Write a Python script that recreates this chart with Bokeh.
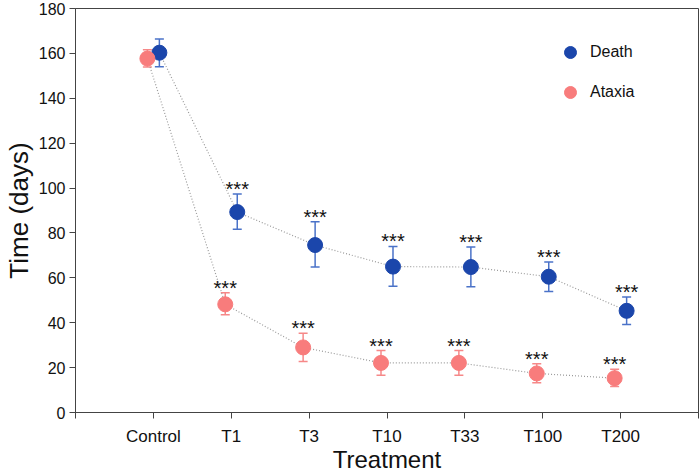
from bokeh.plotting import figure
from bokeh.models import ColumnDataSource, Whisker, FixedTicker, Legend, LegendItem, Range1d
from bokeh.transform import dodge
from bokeh.core.properties import value
from bokeh.embed import file_html
from bokeh.resources import INLINE

# ---- data ----
categories = ["Control", "T1", "T3", "T10", "T33", "T100", "T200"]
death_mean = [160.3, 89.3, 74.6, 65.0, 64.8, 60.5, 45.3]
death_upper = [166.4, 97.3, 85.0, 74.0, 73.7, 67.0, 51.5]
death_lower = [154.0, 81.6, 64.8, 56.3, 56.0, 53.9, 39.2]
ataxia_mean = [157.7, 48.2, 29.0, 22.1, 22.1, 17.4, 15.3]
ataxia_upper = [161.6, 53.3, 35.3, 27.6, 27.6, 21.7, 19.3]
ataxia_lower = [153.9, 43.5, 22.7, 16.6, 16.6, 13.2, 11.6]
death_sig = ["", "***", "***", "***", "***", "***", "***"]
ataxia_sig = ["", "***", "***", "***", "***", "***", "***"]
y_ticks = [0, 20, 40, 60, 80, 100, 120, 140, 160, 180]

xpos = list(range(1, len(categories) + 1))
FONT = "Liberation Sans"

death_src = ColumnDataSource(dict(x=xpos, y=death_mean, up=death_upper, lo=death_lower, s=death_sig))
ataxia_src = ColumnDataSource(dict(x=xpos, y=ataxia_mean, up=ataxia_upper, lo=ataxia_lower, s=ataxia_sig))

DEATH = "#1b46ab"
DEATH_ERR = "#4a72c8"
ATAXIA = "#f87c7c"
ATAXIA_ERR = "#f68888"
OFF = 0.077

p = figure(width=700, height=475, output_backend="svg", toolbar_location=None,
           x_range=Range1d(0, len(categories) + 1), y_range=Range1d(0, 180),
           min_border_left=74, min_border_right=2, min_border_top=8, min_border_bottom=63)
p.grid.visible = False
p.outline_line_color = "#444444"
p.outline_line_width = 1
p.background_fill_color = "white"
p.border_fill_color = "white"

# connecting dotted lines
p.line(dodge("x", OFF), "y", source=death_src, line_color="#9a9a9a", line_dash="1 2", line_width=1.2)
p.line(dodge("x", -OFF), "y", source=ataxia_src, line_color="#9a9a9a", line_dash="1 2", line_width=1.2)

# error bars
for src, col, off in [(death_src, DEATH_ERR, OFF), (ataxia_src, ATAXIA_ERR, -OFF)]:
    w = Whisker(base=dodge("x", off), upper="up", lower="lo", source=src,
                line_color=col, line_width=1.5)
    w.upper_head.size = 9
    w.lower_head.size = 9
    w.upper_head.line_color = col
    w.lower_head.line_color = col
    w.upper_head.line_width = 1.5
    w.lower_head.line_width = 1.5
    p.add_layout(w)

r_death = p.scatter(dodge("x", OFF), "y", source=death_src, size=15, fill_color=DEATH, line_color=DEATH)
r_ataxia = p.scatter(dodge("x", -OFF), "y", source=ataxia_src, size=15, fill_color=ATAXIA, line_color=ATAXIA)

# significance stars
for src, off in [(death_src, OFF), (ataxia_src, -OFF)]:
    p.text(dodge("x", off), "up", text="s", source=src, text_align="center",
           text_baseline="alphabetic", y_offset=-5, text_font=value(FONT),
           text_font_size="20px", text_color="#111111")

# axes
p.xaxis.ticker = FixedTicker(ticks=list(range(0, len(categories) + 2)))
overrides = {0: "", len(categories) + 1: ""}
for i, c in zip(xpos, categories):
    overrides[i] = c
p.xaxis.major_label_overrides = overrides
p.yaxis.ticker = FixedTicker(ticks=y_ticks)

for ax in (p.xaxis[0], p.yaxis[0]):
    ax.minor_tick_line_color = None
    ax.major_tick_in = 0
    ax.major_tick_out = 6
    ax.axis_line_color = "#444444"
    ax.major_tick_line_color = "#444444"
    ax.major_label_text_font = FONT
    ax.major_label_text_font_size = "16px"
    ax.major_label_text_color = "#111111"
    ax.axis_label_text_font = FONT
    ax.axis_label_text_font_size = "24px"
    ax.axis_label_text_font_style = "normal"
    ax.axis_label_text_color = "#111111"

p.xaxis.major_label_text_font_size = "17px"
p.yaxis.axis_label_text_font_size = "26px"
p.xaxis.axis_label = "Treatment"
p.yaxis.axis_label = "Time (days)"
p.xaxis.major_label_standoff = 8
p.xaxis.axis_label_standoff = -3
p.yaxis.major_label_standoff = 4
p.yaxis.axis_label_standoff = 2

legend = Legend(items=[LegendItem(label="Death", renderers=[r_death]),
                       LegendItem(label="Ataxia", renderers=[r_ataxia])],
                location=(480, 305), border_line_color=None, background_fill_alpha=0,
                glyph_width=30, glyph_height=30, spacing=10, padding=5,
                label_standoff=5, label_text_font=FONT, label_text_font_size="16px",
                label_text_color="#111111")
p.add_layout(legend)

open("out.html", "w").write(file_html(p, INLINE))
